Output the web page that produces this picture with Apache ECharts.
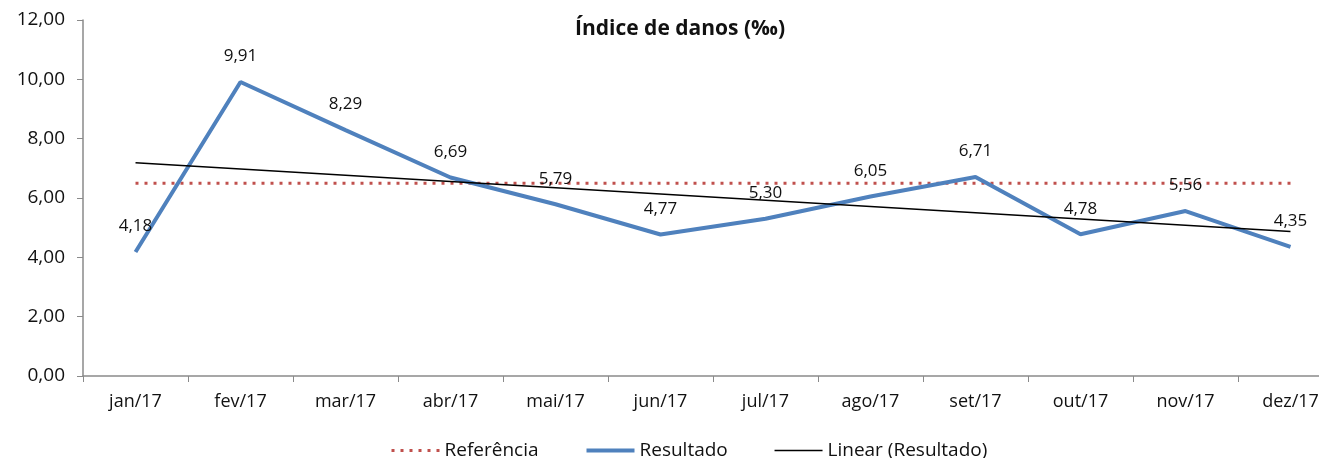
<!DOCTYPE html>
<html>
<head>
<meta charset="utf-8">
<script src="https://cdn.jsdelivr.net/npm/echarts@6/dist/echarts.min.js"></script>
<style>
  html, body { margin: 0; padding: 0; background: #fff; overflow: hidden; }
  /* a área do gráfico passa um pouco da janela, como no original */
  #charts { width: 1343px; height: 458px; }
</style>
</head>
<body>
<div id="charts"></div>
<script>
// dados
const meses = ['jan/17', 'fev/17', 'mar/17', 'abr/17', 'mai/17', 'jun/17', 'jul/17', 'ago/17', 'set/17', 'out/17', 'nov/17', 'dez/17'];
const resultado = [4.18, 9.91, 8.29, 6.69, 5.79, 4.77, 5.30, 6.05, 6.71, 4.78, 5.56, 4.35];
const referencia = [6.5, 6.5, 6.5, 6.5, 6.5, 6.5, 6.5, 6.5, 6.5, 6.5, 6.5, 6.5];
// tendência linear: só os extremos, ligados pela própria linha
const linear = [7.19, null, null, null, null, null, null, null, null, null, null, 4.87];

const fonte = '"Open Sans", "DejaVu Sans", sans-serif';
const fmt = v => v.toFixed(2).replace('.', ',');

let myChart = echarts.init(document.getElementById('charts'));
let option = {
  animation: false,
  textStyle: { fontFamily: fonte },
  title: {
    text: 'Índice de danos (‰)',
    left: 570,
    top: 14,
    textStyle: { fontSize: 21, fontWeight: 'bold', color: '#111', fontFamily: fonte },
  },
  legend: {
    top: 436,
    left: 385,
    itemWidth: 48,
    itemHeight: 14,
    itemGap: 46,
    itemStyle: { opacity: 0 },
    lineStyle: { width: 'inherit' },
    textStyle: { fontSize: 19, color: '#111', fontFamily: fonte },
    data: ['Referência', 'Resultado', 'Linear (Resultado)'],
  },
  grid: { left: 83, right: 0, top: 20, bottom: 82 },
  xAxis: {
    type: 'category',
    data: meses,
    axisLine: { lineStyle: { color: '#8a8a8a', width: 1.5 } },
    axisTick: { show: true, length: 6, lineStyle: { color: '#8a8a8a' } },
    axisLabel: { color: '#111', fontSize: 18, margin: 17, fontFamily: fonte },
  },
  yAxis: {
    type: 'value',
    min: 0,
    max: 12,
    interval: 2,
    axisLine: { show: true, lineStyle: { color: '#8a8a8a', width: 1.5 } },
    axisTick: { show: true, length: 6, lineStyle: { color: '#8a8a8a' } },
    splitLine: { show: false },
    axisLabel: { color: '#111', fontSize: 19, margin: 18, formatter: v => fmt(v), fontFamily: fonte },
  },
  series: [
    {
      name: 'Referência',
      type: 'line',
      data: referencia,
      symbol: 'none',
      lineStyle: { color: '#c0504d', width: 3, type: [3, 6] },
      itemStyle: { color: '#c0504d' },
      z: 2,
    },
    {
      name: 'Resultado',
      type: 'line',
      data: resultado,
      symbol: 'circle',
      symbolSize: 0,
      showSymbol: true,
      lineStyle: { color: '#4f81bd', width: 4 },
      itemStyle: { color: '#4f81bd' },
      label: {
        show: true,
        position: 'top',
        distance: 17,
        fontSize: 17,
        color: '#111',
        fontFamily: fonte,
        formatter: p => fmt(p.value),
      },
      z: 3,
    },
    {
      name: 'Linear (Resultado)',
      type: 'line',
      data: linear,
      connectNulls: true,
      symbol: 'none',
      lineStyle: { color: '#000', width: 1.5 },
      itemStyle: { color: '#000' },
      z: 4,
    },
  ],
};
myChart.setOption(option);

window.addEventListener('resize', function () {
  myChart.resize();
});
</script>
</body>
</html>
